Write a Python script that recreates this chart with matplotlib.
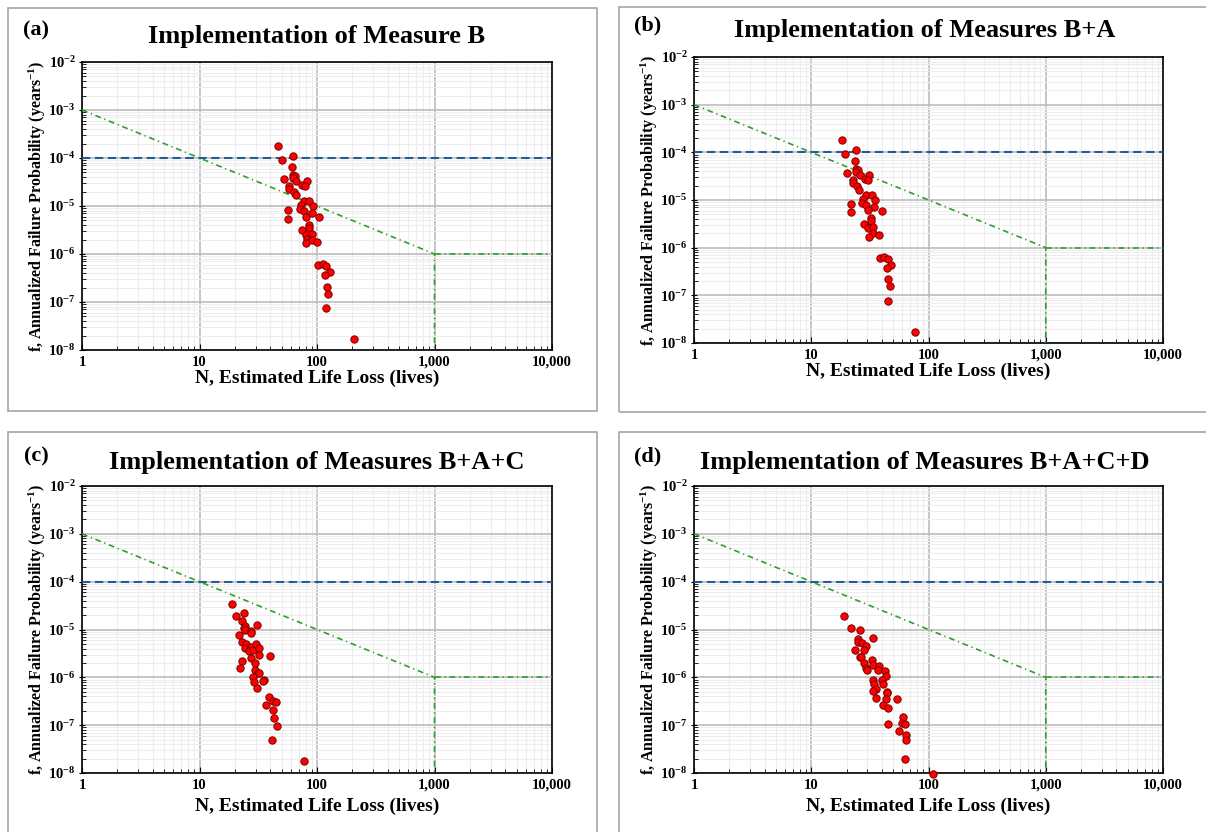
import matplotlib
matplotlib.use("Agg")
import matplotlib.pyplot as plt
import numpy as np
from matplotlib.patches import Rectangle
from matplotlib.ticker import LogLocator, FixedLocator, FuncFormatter, NullFormatter

plt.rcParams['font.family'] = ['Liberation Serif', 'DejaVu Serif']
plt.rcParams['font.weight'] = 'bold'
plt.rcParams['mathtext.fontset'] = 'custom'
plt.rcParams['mathtext.rm'] = 'Liberation Serif:bold'
plt.rcParams['mathtext.bf'] = 'Liberation Serif:bold'
plt.rcParams['mathtext.it'] = 'Liberation Serif:bold:italic'

# ---- data (N = estimated life loss, f = annualized failure probability)
titles = ['Implementation of Measure B',
          'Implementation of Measures B+A',
          'Implementation of Measures B+A+C',
          'Implementation of Measures B+A+C+D']
labels = ['(a)', '(b)', '(c)', '(d)']

n_a = [47, 50, 62, 61, 52, 63, 65, 63, 66, 82, 75, 79, 58, 58, 64, 66, 78, 86, 73, 92,
       57, 71, 77, 90, 81, 57, 105, 85, 86, 74, 81, 90, 82, 90, 81, 100, 102, 113, 119,
       128, 118, 121, 125, 120, 207]
f_a = [1.8e-4, 9.3e-5, 1.1e-4, 6.5e-5, 3.6e-5, 4.5e-5, 4.3e-5, 3.9e-5, 3.3e-5, 3.3e-5,
       2.8e-5, 2.6e-5, 2.6e-5, 2.3e-5, 2.0e-5, 1.7e-5, 1.26e-5, 1.26e-5, 1.05e-5, 9.8e-6,
       8.1e-6, 8.5e-6, 7.8e-6, 7.2e-6, 6.0e-6, 5.4e-6, 5.8e-6, 4.0e-6, 3.5e-6, 3.2e-6,
       2.5e-6, 2.6e-6, 2.1e-6, 2.0e-6, 1.66e-6, 1.74e-6, 6.0e-7, 6.3e-7, 5.6e-7, 4.2e-7,
       3.6e-7, 2.1e-7, 1.5e-7, 7.4e-8, 1.7e-8]

n_b = [18.3, 19.4, 24.0, 23.5, 20.3, 24.2, 25.2, 23.9, 25.8, 31.3, 28.8, 30.3, 22.6, 22.7,
       24.7, 25.5, 29.3, 32.8, 35.0, 27.8, 27.0, 29.3, 34.5, 22.0, 22.0, 30.5, 39.8, 32.4,
       32.4, 28.1, 30.7, 33.9, 33.6, 30.9, 38.0, 38.7, 42.1, 44.9, 47.6, 44.4, 45.2, 46.7,
       45.2, 76]
f_b = [1.8e-4, 9.3e-5, 1.1e-4, 6.6e-5, 3.7e-5, 4.4e-5, 4.2e-5, 3.9e-5, 3.3e-5, 3.4e-5,
       2.8e-5, 2.6e-5, 2.6e-5, 2.3e-5, 2.0e-5, 1.66e-5, 1.29e-5, 1.29e-5, 1.0e-5, 1.07e-5,
       8.7e-6, 7.9e-6, 7.2e-6, 8.3e-6, 5.6e-6, 6.2e-6, 5.9e-6, 4.1e-6, 3.6e-6, 3.2e-6,
       2.6e-6, 2.7e-6, 2.0e-6, 1.7e-6, 1.8e-6, 6.2e-7, 6.3e-7, 5.9e-7, 4.4e-7, 3.7e-7,
       2.2e-7, 1.55e-7, 7.6e-8, 1.74e-8]

n_c = [19.0, 20.4, 24.1, 23.1, 24.3, 23.8, 24.6, 27.2, 27.4, 30.6, 21.6, 22.9, 24.7, 24.5,
       27.2, 26.4, 28.8, 30.3, 32.3, 31.9, 27.2, 29.9, 39.9, 22.9, 22.1, 29.6, 31.3, 32.3,
       28.3, 35.6, 34.9, 29.2, 30.9, 39.1, 42.5, 44.4, 36.7, 42.2, 43.0, 45.3, 41.7, 77.6]
f_c = [3.4e-5, 1.95e-5, 2.2e-5, 1.5e-5, 1.2e-5, 1.07e-5, 9.8e-6, 9.3e-6, 8.5e-6, 1.23e-5,
       7.6e-6, 5.6e-6, 4.9e-6, 4.2e-6, 4.4e-6, 3.5e-6, 3.7e-6, 5.0e-6, 4.1e-6, 2.9e-6,
       2.5e-6, 2.0e-6, 2.75e-6, 2.2e-6, 1.6e-6, 1.4e-6, 1.26e-6, 1.23e-6, 1.02e-6, 8.7e-7,
       8.5e-7, 7.9e-7, 5.9e-7, 3.8e-7, 3.2e-7, 3.0e-7, 2.6e-7, 2.1e-7, 1.38e-7, 9.5e-8,
       5.0e-8, 1.8e-8]

n_d = [19.1, 21.7, 26.2, 25.2, 24.9, 27.3, 29.5, 28.4, 23.8, 33.4, 25.9, 26.7, 28.1, 29.2,
       29.8, 32.8, 33.4, 37.8, 37.3, 42.7, 43.3, 33.4, 34.1, 40.3, 41.0, 35.6, 33.4, 44.1,
       44.7, 35.6, 43.0, 53.5, 41.3, 45.0, 60.9, 58.9, 63.3, 45.2, 56.0, 64.1, 64.1, 63.6,
       108.8]
f_d = [1.95e-5, 1.07e-5, 9.8e-6, 6.3e-6, 5.4e-6, 5.1e-6, 4.5e-6, 3.7e-6, 3.8e-6, 6.6e-6,
       2.6e-6, 2.6e-6, 2.0e-6, 1.58e-6, 1.45e-6, 2.3e-6, 1.78e-6, 1.74e-6, 1.41e-6, 1.38e-6,
       1.05e-6, 8.7e-7, 7.4e-7, 8.7e-7, 7.1e-7, 5.8e-7, 5.1e-7, 4.9e-7, 4.7e-7, 3.7e-7,
       3.6e-7, 3.5e-7, 2.7e-7, 2.3e-7, 1.45e-7, 1.12e-7, 1.05e-7, 1.07e-7, 7.4e-8, 6.3e-8,
       4.9e-8, 1.95e-8, 9.5e-9]

# tolerable risk guidelines
limit_n = [1, 1000, 1000]
limit_f = [1e-3, 1e-6, 1e-8]
limit_tail_n = [1000, 10000]
limit_tail_f = [1e-6, 1e-6]
society_f = 1e-4

x_ticks = [1, 10, 100, 1000, 10000]
y_ticks = [1e-8, 1e-7, 1e-6, 1e-5, 1e-4, 1e-3, 1e-2]

W, H = 1206, 832
fig = plt.figure(figsize=(W / 100, H / 100), dpi=100)


def frac(x0, y0, x1, y1):
    return [x0 / W, 1 - y1 / H, (x1 - x0) / W, (y1 - y0) / H]


# pixel layout of each panel: box, axes, title/label centres
panels = [
    dict(box=(8, 8, 597, 411), ax=(82, 62, 552, 350), title=(317, 37), lab=(36, 30), yl=37, xl=378),
    dict(box=(619, 7, 1215, 412), ax=(694, 57, 1163, 343), title=(925, 31), lab=(648, 25), yl=649, xl=371),
    dict(box=(8, 432, 597, 845), ax=(82, 486, 552, 773), title=(317, 462), lab=(36, 456), yl=37, xl=806),
    dict(box=(619, 432, 1215, 845), ax=(694, 486, 1163, 773), title=(925, 462), lab=(648, 456), yl=649, xl=806),
]
series = [(n_a, f_a), (n_b, f_b), (n_c, f_c), (n_d, f_d)]

for i, p in enumerate(panels):
    bx0, by0, bx1, by1 = p['box']
    fig.add_artist(Rectangle((bx0 / W, 1 - by1 / H), (bx1 - bx0) / W, (by1 - by0) / H,
                             transform=fig.transFigure, fill=False, edgecolor='#a6a6a6', lw=1.2))

    ax = fig.add_axes(frac(*p['ax']))
    ax.set_xscale('log')
    ax.set_yscale('log')
    ax.set_xlim(1, 10000)
    ax.set_ylim(1e-8, 1e-2)

    ax.xaxis.set_major_locator(FixedLocator(x_ticks))
    ax.xaxis.set_major_formatter(FuncFormatter(lambda v, pos: f'{int(round(v)):,}'))
    ax.xaxis.set_minor_locator(LogLocator(base=10, subs=np.arange(2, 10), numticks=20))
    ax.xaxis.set_minor_formatter(NullFormatter())
    ax.yaxis.set_major_locator(FixedLocator(y_ticks))
    ax.yaxis.set_major_formatter(FuncFormatter(lambda v, pos: r'$10^{%d}$' % int(round(np.log10(v)))))
    ax.yaxis.set_minor_locator(LogLocator(base=10, subs=np.arange(2, 10), numticks=20))
    ax.yaxis.set_minor_formatter(NullFormatter())

    ax.grid(True, which='minor', color='#ededed', lw=0.8, zorder=0)
    ax.grid(True, which='major', color='#bcbcbc', lw=1.2, zorder=0)
    ax.set_axisbelow(True)

    ax.tick_params(axis='x', which='major', direction='in', length=4, labelsize=10.5, pad=4)
    ax.tick_params(axis='y', which='major', direction='inout', length=5, labelsize=10.5, pad=2)
    ax.tick_params(which='minor', direction='in', length=3)
    for s in ax.spines.values():
        s.set_linewidth(1.2)
        s.set_color('black')

    ax.axhline(society_f, color='#1f5c99', lw=1.5, linestyle=(0, (4, 2.2)), zorder=3)
    ax.plot(limit_n, limit_f, color='#2ca02c', lw=1.2, linestyle=(0, (3.5, 2.2, 0.8, 2.2)), zorder=3)
    ax.plot(limit_tail_n, limit_tail_f, color='#2ca02c', lw=1.2, linestyle=(0, (3.5, 2.2, 0.8, 2.2)), zorder=3)

    n, f = series[i]
    ax.scatter(n, f, s=28, color='#ff0000', edgecolors='#7a0000', linewidths=0.7,
               zorder=5, clip_on=False)

    tx, ty = p['title']
    fig.text(tx / W, 1 - ty / H, titles[i], ha='center', va='center', fontsize=19, fontweight='bold')
    lx, ly = p['lab']
    fig.text(lx / W, 1 - ly / H, labels[i], ha='center', va='center', fontsize=16, fontweight='bold')
    ax0, ay0, ax1, ay1 = p['ax']
    fig.text(p['yl'] / W, 1 - ((ay0 + ay1) / 2) / H,
             r'f, Annualized Failure Probability (years$^{-1}$)',
             rotation=90, ha='center', va='center', fontsize=11.5, fontweight='bold')
    fig.text(((ax0 + ax1) / 2) / W, 1 - p['xl'] / H, 'N, Estimated Life Loss (lives)',
             ha='center', va='center', fontsize=14, fontweight='bold')

fig.savefig('out.png', dpi=100)
